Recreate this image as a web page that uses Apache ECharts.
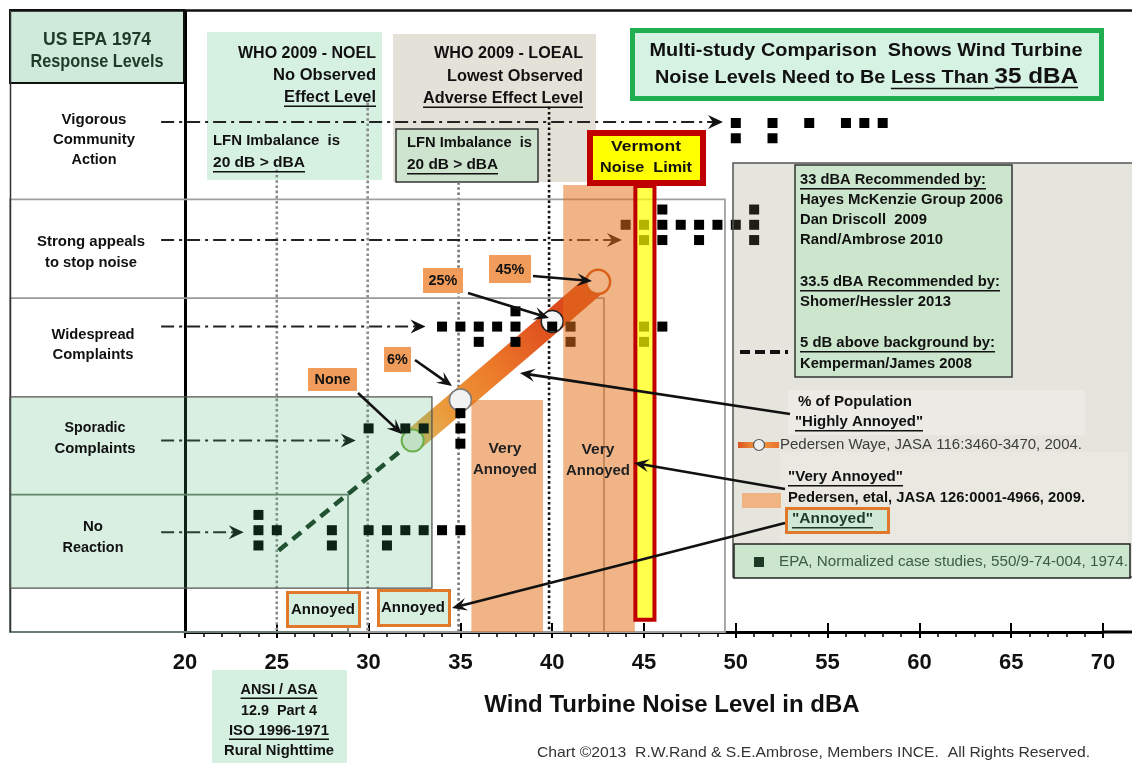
<!DOCTYPE html>
<html><head><meta charset="utf-8">
<script src="https://cdn.jsdelivr.net/npm/echarts@6.0.0/dist/echarts.min.js"></script>
<style>html,body{margin:0;padding:0;background:#fff}#c{width:1132px;height:763px}</style>
</head><body><div id="c"></div>
<script>
// ---------------- DATA ----------------
const xTickStart = 20, xTickEnd = 70, xTickStep = 5;
const levelMax = 6.1;
const responseLevels = ['No Reaction', 'Sporadic Complaints', 'Widespread Complaints', 'Strong appeals to stop noise', 'Vigorous Community Action'];
const stackStep = 0.15;
// EPA normalized case studies: [dBA, response level (1..5), stack slot]
const epaNoReaction = [[24,1,0],[24,1,1],[24,1,-1],[25,1,0],[28,1,0],[28,1,-1],[30,1,0],[31,1,0],[31,1,-1],[32,1,0],[33,1,0],[34,1,0],[35,1,0]];
const epaSporadic = [[30,2,0],[32,2,0],[33,2,0],[35,2,1],[35,2,0],[35,2,-1]];
const epaWidespread = [[34,3,0],[35,3,0],[36,3,0],[36,3,-1],[37,3,0],[38,3,1],[38,3,0],[38,3,-1],[40,3,0],[41,3,0],[41,3,-1],[45,3,0],[45,3,-1],[46,3,0]];
const epaStrong = [[44,4,0],[45,4,0],[45,4,-1],[46,4,1],[46,4,0],[46,4,-1],[47,4,0],[48,4,0],[48,4,-1],[49,4,0],[50,4,0],[51,4,1],[51,4,0],[51,4,-1]];
const epaVigorous = [[50,5,0],[50,5,-1],[52,5,0],[52,5,-1],[54,5,0],[56,5,0],[57,5,0],[58,5,0]];
// Pedersen Waye 2004, % highly annoyed
const pwDBA = [32.4, 35, 40, 42.5];
const pwLevel = [1.88, 2.28, 3.05, 3.44];
const pwLabels = ['None', '6%', '25%', '45%'];
// Kemperman/James 2008, 5 dB above background
const kjDBA = [25.1, 32.1];
const kjLevel = [0.8, 1.83];
// Pedersen et al 2009 "Very Annoyed" bands: [from dBA, to dBA, top level]
const veryAnnoyedBands = [[35.6, 39.5, 2.28], [40.6, 44.5, 4.39]];
// Vermont noise limit
const vermontDBA = 45.05, vermontHalf = 0.52, vermontBottom = 0.12, vermontTop = 4.38;
// response range boxes: [from dBA, to dBA, bottom level, top level]
const leftPanelDBA = 10.47;
const rangeBoxes = [[leftPanelDBA, 49.41, 0, 4.25], [leftPanelDBA, 42.82, 0, 3.28], [leftPanelDBA, 28.88, 0, 1.35]];
const sporadicBox = [[leftPanelDBA, 33.45, 0.43, 2.31]];
// WHO / reference guide lines: dBA and top level
const guideDBA = [25, 29.95, 34.9, 39.83];
const guideTop = [4.54, 5.2, 4.42, 5.16];
// response-level arrows: level and end dBA
const rowArrowStart = 18.7;
const rowArrowLevel = [0.98, 1.88, 3.0, 3.85, 5.01];
const rowArrowEnd = [23.2, 29.3, 33.1, 43.8, 49.3];

// ---------------- STYLE / HELPERS ----------------
const FF = '"Liberation Sans", Arial, Helvetica, sans-serif';
const mctx = document.createElement('canvas').getContext('2d');
function mw(s, font) { mctx.font = font; return mctx.measureText(s).width; }
const G = [];
function text(x, y, s, o) {
  o = o || {};
  const size = o.size || 15, weight = o.weight || 'bold';
  const font = weight + ' ' + size + 'px ' + FF;
  const w0 = mw(s, font);
  const sx = o.w ? o.w / w0 : (o.sx || 0.93);
  const align = o.align || 'left';
  const col = o.color || '#111';
  G.push({type: 'text', x: x, y: y, z: o.z || 20, scaleX: sx, silent: true,
    style: {text: s, font: font, fill: col, align: align, verticalAlign: 'middle'}});
  const W = w0 * sx;
  if (o.u) {
    const lx = align === 'left' ? x : (align === 'center' ? x - W / 2 : x - W);
    const uy = y + size * 0.5 + (o.uo || 1);
    G.push({type: 'line', z: o.z || 20, silent: true, shape: {x1: lx, y1: uy, x2: lx + W, y2: uy}, style: {stroke: col, lineWidth: 1.4}});
  }
  return W;
}
function rect(x, y, w, h, fill, stroke, lw, z) {
  G.push({type: 'rect', z: z || 1, silent: true, shape: {x: x, y: y, width: w, height: h},
    style: {fill: fill || 'none', stroke: stroke || 'none', lineWidth: lw || 0}});
}
function line(x1, y1, x2, y2, stroke, lw, dash, z) {
  G.push({type: 'line', z: z || 20, silent: true, shape: {x1: x1, y1: y1, x2: x2, y2: y2},
    style: {stroke: stroke, lineWidth: lw, lineDash: dash || null}});
}
function arrow(x1, y1, x2, y2, z) {
  const hl = 15, hw = 6.5;
  const a = Math.atan2(y2 - y1, x2 - x1), c = Math.cos(a), s = Math.sin(a);
  line(x1, y1, x2 - c * hl * 0.6, y2 - s * hl * 0.6, '#111', 2.6, null, z);
  G.push({type: 'polygon', z: z || 20, silent: true, shape: {points: [
    [x2, y2], [x2 - c * hl - s * hw, y2 - s * hl + c * hw], [x2 - c * hl * 0.6, y2 - s * hl * 0.6], [x2 - c * hl + s * hw, y2 - s * hl - c * hw]]},
    style: {fill: '#111'}});
}

// ---------------- LAYOUT GRAPHICS ----------------
// frame
line(10, 10.5, 1132, 10.5, '#111', 2.5, null, 3);
line(10.5, 10, 10.5, 632, '#333', 1.5, null, 3);
line(1103, 632, 1132, 632, '#000', 3, null, 3);
// header
rect(10, 10, 174, 73, '#cfeadb', '#111', 2, 1);
text(97, 40, 'US EPA 1974', {size: 18, align: 'center', w: 108, color: '#1f3b28'});
text(97, 62, 'Response Levels', {size: 18, align: 'center', w: 133, color: '#1f3b28'});
// row labels
text(94, 120, 'Vigorous', {size: 15.5, align: 'center', w: 65});
text(94, 140, 'Community', {size: 15.5, align: 'center', w: 82});
text(94, 160, 'Action', {size: 15.5, align: 'center', w: 45});
text(91, 242, 'Strong appeals', {size: 15.5, align: 'center', w: 108});
text(91, 263, 'to stop noise', {size: 15.5, align: 'center', w: 92});
text(93, 335, 'Widespread', {size: 15.5, align: 'center', w: 83});
text(93, 355, 'Complaints', {size: 15.5, align: 'center', w: 81});
text(95, 428, 'Sporadic', {size: 15.5, align: 'center', w: 61});
text(95, 449, 'Complaints', {size: 15.5, align: 'center', w: 81});
text(93, 527, 'No', {size: 15.5, align: 'center', w: 20});
text(93, 548, 'Reaction', {size: 15.5, align: 'center', w: 61});
// WHO NOEL
rect(207, 32, 175, 148, '#d6f1e2', null, 0, 1);
text(376, 53, 'WHO 2009 - NOEL', {size: 16.5, align: 'right', w: 138});
text(376, 75, 'No Observed', {size: 16.5, align: 'right', w: 103});
text(376, 97, 'Effect Level', {size: 16.5, align: 'right', w: 92, u: true});
text(213, 141, 'LFN Imbalance  is', {size: 15.5, w: 127});
text(213, 163, '20 dB > dBA', {size: 15.5, w: 92, u: true});
// WHO LOEAL
rect(393, 34, 203, 148, '#e4e2d8', null, 0, 1);
text(583, 53, 'WHO 2009 - LOEAL', {size: 16.5, align: 'right', w: 149});
text(583, 76, 'Lowest Observed', {size: 16.5, align: 'right', w: 136});
text(583, 98, 'Adverse Effect Level', {size: 16.5, align: 'right', w: 160, u: true});
rect(396, 129, 142, 53, '#cfe4ce', '#333', 1.5, 1);
text(407, 143, 'LFN Imbalance  is', {size: 15.5, w: 125});
text(407, 165, '20 dB > dBA', {size: 15.5, w: 91, u: true});
// title box
rect(632.5, 30.5, 469, 68, '#d6f2e3', '#1fae50', 5, 1);
text(866, 51, 'Multi-study Comparison  Shows Wind Turbine', {size: 18, align: 'center', w: 433});
(function () {
  const a = 'Noise Levels Need to Be ', b = 'Less Than ', c = '35 dBA';
  const f1 = 'bold 18px ' + FF, f2 = 'bold 22px ' + FF;
  const wa = mw(a, f1), wb = mw(b, f1), wc = mw(c, f2);
  const k = 423 / (wa + wb + wc);
  const x0 = 655;
  text(x0, 78, a, {size: 18, sx: k});
  text(x0 + wa * k, 78, b, {size: 18, sx: k, u: true, uo: 1.5});
  text(x0 + (wa + wb) * k, 77, c, {size: 22, sx: k, u: true, uo: -0.5});
})();
// Vermont label
rect(590, 133, 113, 50, '#ffff00', '#c00000', 6, 6);
text(646, 147, 'Vermont', {size: 15.5, align: 'center', w: 70});
text(646, 168, 'Noise  Limit', {size: 15.5, align: 'center', w: 92});
// very annoyed texts
text(505, 449, 'Very', {size: 15.5, align: 'center', w: 33, color: '#222'});
text(505, 470, 'Annoyed', {size: 15.5, align: 'center', w: 64, color: '#222'});
text(598, 450, 'Very', {size: 15.5, align: 'center', w: 33, color: '#222'});
text(598, 471, 'Annoyed', {size: 15.5, align: 'center', w: 64, color: '#222'});
// percentage labels for Pedersen Waye
const pwBox = [[308, 368, 49, 23], [384, 347, 27, 25], [423, 268, 40, 25], [489, 255, 42, 28]];
pwBox.forEach(function (b, i) {
  rect(b[0], b[1], b[2], b[3], '#f19c5a', null, 0, 15);
  text(b[0] + b[2] / 2, b[1] + b[3] / 2 + 0.5, pwLabels[i], {size: 15.5, align: 'center', sx: 0.93});
});
arrow(358, 393, 402, 434);
arrow(415, 360, 452, 386);
arrow(468, 293, 549, 318);
arrow(533, 276, 592, 281);
arrow(790, 414, 520, 373);
arrow(785, 489, 634, 463);
arrow(785, 523, 452, 608);
// annoyed boxes
rect(287.5, 592.5, 72, 34, '#d6efdf', '#e07a2a', 3, 15);
text(323, 610, 'Annoyed', {size: 15.5, align: 'center', w: 64});
rect(378.5, 590.5, 71, 35, '#d6efdf', '#e07a2a', 3, 15);
text(413, 608, 'Annoyed', {size: 15.5, align: 'center', w: 64});
// ANSI box
rect(212, 670, 135, 93, '#d5f0e0', null, 0, 1);
text(279, 690, 'ANSI / ASA', {size: 14.5, align: 'center', w: 77, u: true});
text(279, 711, '12.9  Part 4', {size: 14.5, align: 'center', w: 76});
text(279, 731, 'ISO 1996-1971', {size: 14.5, align: 'center', w: 100, u: true});
text(279, 751, 'Rural Nighttime', {size: 14.5, align: 'center', w: 110});
// copyright
text(537, 753, 'Chart \u00a92013  R.W.Rand & S.E.Ambrose, Members INCE.  All Rights Reserved.', {size: 15, weight: 'normal', w: 553, color: '#333'});
// legend panel
rect(733, 163, 400, 414, 'rgba(140,135,100,0.22)', '#555', 1.5, 5);
rect(788, 390, 297, 45, 'rgba(255,255,255,0.18)', null, 0, 6);
rect(780, 452, 348, 91, 'rgba(255,255,255,0.14)', null, 0, 6);
rect(795, 165, 217, 212, '#cce6cd', '#333', 1.5, 7);
text(800, 180, '33 dBA Recommended by:', {size: 15.5, w: 186, u: true});
text(800, 200, 'Hayes McKenzie Group 2006', {size: 15.5, w: 203});
text(800, 220, 'Dan Driscoll  2009', {size: 15.5, w: 127});
text(800, 240, 'Rand/Ambrose 2010', {size: 15.5, w: 143});
text(800, 282, '33.5 dBA Recommended by:', {size: 15.5, w: 200, u: true});
text(800, 302, 'Shomer/Hessler 2013', {size: 15.5, w: 151});
text(800, 343, '5 dB above background by:', {size: 15.5, w: 195, u: true});
text(800, 364, 'Kemperman/James 2008', {size: 15.5, w: 172});
line(740, 352, 788, 352, '#111', 4, [10, 5], 20);
text(798, 402, '% of Population', {size: 15.5, w: 114});
text(795, 422, '"Highly Annoyed"', {size: 15.5, w: 128, u: true});
G.push({type: 'line', z: 20, silent: true, shape: {x1: 738, y1: 445, x2: 779, y2: 445},
  style: {lineWidth: 6, stroke: new echarts.graphic.LinearGradient(0, 0, 1, 0, [{offset: 0, color: '#d84a1c'}, {offset: 0.5, color: '#f0a040'}, {offset: 1, color: '#e86a2a'}])}});
G.push({type: 'circle', z: 21, silent: true, shape: {cx: 759, cy: 445, r: 5.5}, style: {fill: '#eeeeee', stroke: '#555', lineWidth: 1.2}});
text(780, 445, 'Pedersen Waye, JASA 116:3460-3470, 2004.', {size: 15.5, weight: 'normal', w: 302, color: '#3c3c3c'});
text(788, 477, '"Very Annoyed"', {size: 15.5, w: 115, u: true});
rect(742, 493, 39, 15, '#f0b482', null, 0, 8);
text(788, 498, 'Pedersen, etal, JASA 126:0001-4966, 2009.', {size: 15.5, w: 297});
rect(786.5, 508.5, 102, 24, '#cfe7d5', '#e07a2a', 3, 8);
text(792, 519, '"Annoyed"', {size: 15.5, w: 81, u: true, color: '#1e3a26'});
rect(734, 544, 396, 34, '#cce6cd', '#222', 1.5, 8);
rect(754, 557, 10, 10, '#1e3a26', null, 0, 9);
text(779, 562, 'EPA, Normalized case studies, 550/9-74-004, 1974.', {size: 15.5, weight: 'normal', w: 349, color: '#3d5a47'});

// ---------------- CHART ----------------
const guideColors = ['#8a8a8a', '#8a8a8a', '#777777', '#111111'];
const rangeColors = ['#a0a0a0', '#9a9a9a', '#6b7f70'];
const epaAll = [].concat(epaNoReaction, epaSporadic, epaWidespread, epaStrong, epaVigorous);
const pwSym = [
  {size: 22, style: {color: '#e3eedb', borderColor: '#76b043', borderWidth: 2}},
  {size: 22, style: {color: '#f2f2f2', borderColor: '#7a7a7a', borderWidth: 1.5}},
  {size: 22, style: {color: '#f5f5f5', borderColor: '#222222', borderWidth: 1.5}},
  {size: 24, style: {color: '#ffffff', borderColor: '#d0501a', borderWidth: 2.5}}
];
function boxRender(styles) {
  return function (p, api) {
    const a = api.coord([api.value(0), api.value(3)]);
    const b = api.coord([api.value(1), api.value(2)]);
    return {type: 'rect', shape: {x: a[0], y: a[1], width: b[0] - a[0], height: b[1] - a[1]}, style: styles[p.dataIndex % styles.length]};
  };
}

const chart = echarts.init(document.getElementById('c'));
chart.setOption({
  animation: false,
  grid: {left: 185, right: 29, top: 11, bottom: 131, containLabel: false},
  xAxis: [{
    type: 'value', min: xTickStart, max: xTickEnd, interval: xTickStep,
    axisLine: {show: true, lineStyle: {color: '#000', width: 3}},
    axisTick: {show: true, inside: false, length: 6, lineStyle: {color: '#000', width: 2}},
    minorTick: {show: true, splitNumber: 5, length: 5, lineStyle: {color: '#000', width: 1.5}},
    splitLine: {show: false}, minorSplitLine: {show: false},
    axisLabel: {show: true, margin: 20, color: '#111', fontSize: 22, fontWeight: 'bold', fontFamily: FF},
    name: 'Wind Turbine Noise Level in dBA', nameLocation: 'middle', nameGap: 61,
    nameTextStyle: {fontSize: 24, fontWeight: 'bold', fontFamily: FF, color: '#111', padding: [0, 0, 0, 56]}
  }, {
    type: 'value', min: xTickStart, max: xTickEnd, interval: xTickStep, position: 'bottom',
    axisLine: {show: false}, axisLabel: {show: false}, splitLine: {show: false},
    axisTick: {show: true, inside: true, length: 9, lineStyle: {color: '#000', width: 2}}
  }],
  yAxis: {
    type: 'value', min: 0, max: levelMax,
    axisLine: {show: true, lineStyle: {color: '#000', width: 3}},
    axisTick: {show: false}, axisLabel: {show: false}, splitLine: {show: false}
  },
  series: [
    { // WHO guide lines
      type: 'custom', z: 2, silent: true, clip: false,
      data: guideDBA.map(function (d, i) { return [d, guideTop[i], i]; }), encode: {x: 0, y: 1},
      renderItem: function (p, api) {
        const a = api.coord([api.value(0), api.value(1)]), b = api.coord([api.value(0), 0]);
        return {type: 'line', shape: {x1: a[0], y1: a[1], x2: b[0], y2: b[1]},
          style: {stroke: guideColors[api.value(2)], lineWidth: 2.6, lineDash: [2.6, 2.6]}};
      }
    },
    { // response range outlines
      type: 'custom', z: 2, silent: true, clip: false,
      data: rangeBoxes, encode: {x: [0, 1], y: [2, 3]},
      renderItem: boxRender(rangeColors.map(function (c) { return {fill: null, stroke: c, lineWidth: 1.8}; }))
    },
    { // response level arrows
      type: 'custom', z: 2, silent: true, clip: false,
      data: rowArrowLevel.map(function (l, i) { return [rowArrowStart, rowArrowEnd[i], l]; }), encode: {x: [0, 1], y: 2},
      renderItem: function (p, api) {
        const a = api.coord([api.value(0), api.value(2)]), b = api.coord([api.value(1), api.value(2)]);
        return {type: 'group', children: [
          {type: 'line', shape: {x1: a[0], y1: a[1], x2: b[0] - 8, y2: b[1]}, style: {stroke: '#222', lineWidth: 2, lineDash: [13, 5, 3, 5]}},
          {type: 'polygon', shape: {points: [[b[0], b[1]], [b[0] - 15, b[1] - 7], [b[0] - 10, b[1]], [b[0] - 15, b[1] + 7]]}, style: {fill: '#111'}}
        ]};
      }
    },
    { // Kemperman / James
      type: 'line', z: 3, silent: true, symbol: 'none',
      data: kjDBA.map(function (x, i) { return [x, kjLevel[i]]; }),
      lineStyle: {color: '#1a3a24', width: 4.5, type: [11, 7]}
    },
    { // Pedersen Waye highly annoyed
      type: 'line', z: 3, silent: true, symbol: 'circle', showSymbol: true,
      data: pwDBA.map(function (x, i) { return {value: [x, pwLevel[i]], symbolSize: pwSym[i].size, itemStyle: pwSym[i].style}; }),
      lineStyle: {width: 23, cap: 'round', color: {type: 'linear', x: 0, y: 1, x2: 1, y2: 0, colorStops: [
        {offset: 0, color: '#d9c070'}, {offset: 0.22, color: '#eb9a3a'}, {offset: 0.45, color: '#ec7a2a'},
        {offset: 0.72, color: '#de4b1d'}, {offset: 1, color: '#d9461a'}]}},
      emphasis: {disabled: true}
    },
    { // EPA case studies
      type: 'scatter', z: 4, silent: true, symbol: 'rect', symbolSize: 10,
      data: epaAll.map(function (d) { return [d[0], d[1] + d[2] * stackStep]; }),
      itemStyle: {color: '#000', opacity: 1}
    },
    { // sporadic complaints range box (translucent)
      type: 'custom', z: 5, silent: true, clip: false,
      data: sporadicBox, encode: {x: [0, 1], y: [2, 3]},
      renderItem: boxRender([{fill: 'rgba(60,175,105,0.2)', stroke: '#555', lineWidth: 1.3}])
    },
    { // Very Annoyed bands
      type: 'custom', z: 5, silent: true, clip: false,
      data: veryAnnoyedBands.map(function (b) { return [b[0], b[1], 0, b[2]]; }), encode: {x: [0, 1], y: [2, 3]},
      renderItem: boxRender([{fill: 'rgba(226,113,28,0.53)', stroke: null}])
    },
    { // Vermont limit
      type: 'custom', z: 5, silent: true, clip: false,
      data: [[vermontDBA - vermontHalf, vermontDBA + vermontHalf, vermontBottom, vermontTop]], encode: {x: [0, 1], y: [2, 3]},
      renderItem: boxRender([{fill: 'rgba(255,255,0,0.7)', stroke: '#c00000', lineWidth: 4}])
    }
  ],
  graphic: {elements: G}
});
</script>
</body></html>
